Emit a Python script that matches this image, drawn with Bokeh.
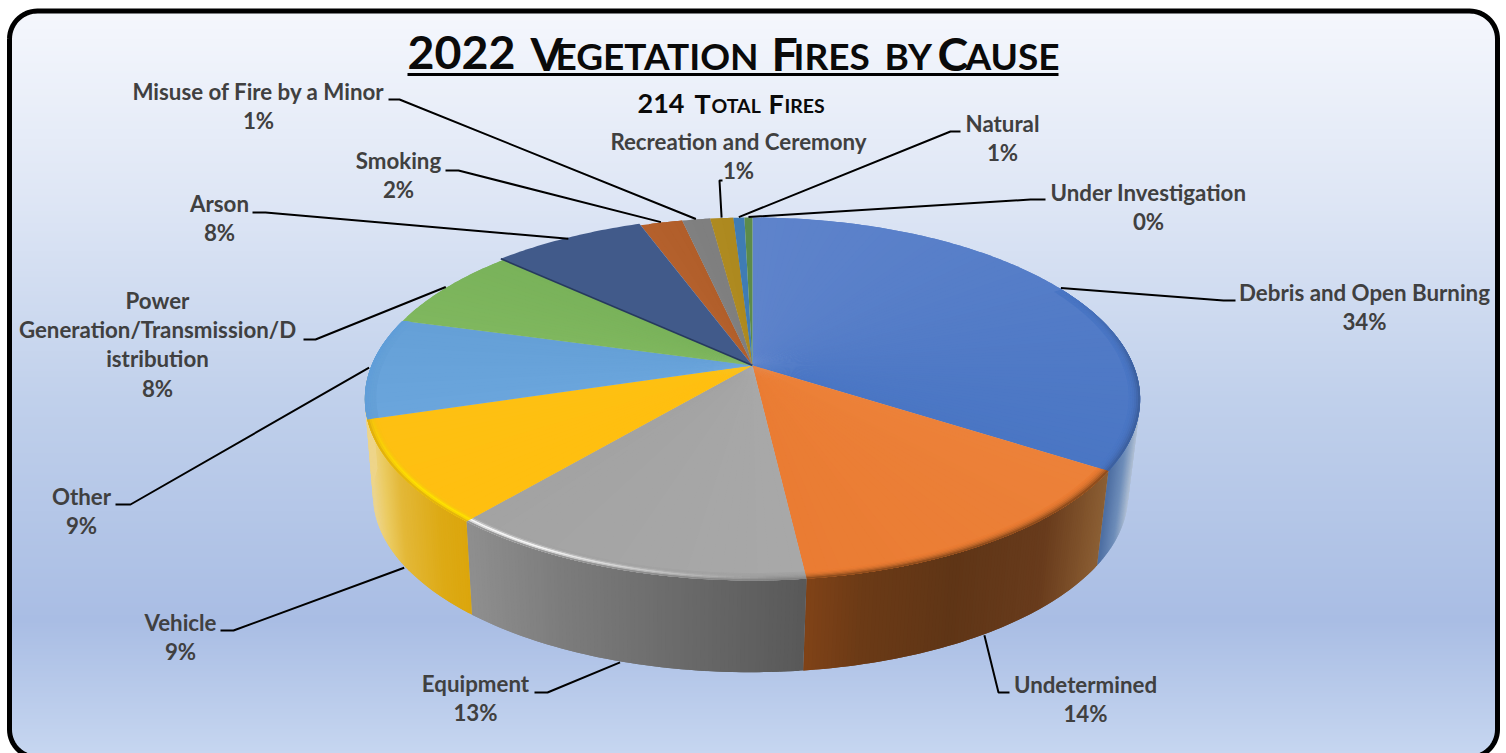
import math
import numpy as np
from bokeh.plotting import figure
from bokeh.models import ColumnDataSource
from bokeh.core.properties import value, field
from bokeh.embed import file_html
from bokeh.resources import INLINE

# Share of fires per cause, percent, clockwise from the back of the pie
categories = ["Debris and Open Burning", "Undetermined", "Equipment", "Vehicle", "Other",
              "Power Generation/Transmission/Distribution", "Arson", "Smoking",
              "Misuse of Fire by a Minor", "Recreation and Ceremony", "Natural", "Under Investigation"]
shares = [34.1, 14.05, 13.0, 9.15, 9.0, 7.55, 7.55, 2.1, 1.4, 1.15, 0.55, 0.4]

title_runs = [("2022", 407, 46.5), ("V", 530, 46.5), ("EGETATION", 555, 37), ("F", 771, 46.5), ("IRES", 793, 37),
              ("BY", 884, 37), ("C", 937, 46.5), ("AUSE", 965, 37)]
subtitle_runs = [("214", 637, 27), ("T", 694, 27), ("OTAL", 711, 19.5), ("F", 768, 27), ("IRES", 784, 19.5)]

# Label wrapping, label centre and leader elbow for each cause
label_lines = [["Debris and Open Burning"], ["Undetermined"], ["Equipment"], ["Vehicle"], ["Other"],
               ["Power", "Generation/Transmission/D", "istribution"], ["Arson"], ["Smoking"],
               ["Misuse of Fire by a Minor"], ["Recreation and Ceremony"], ["Natural"], ["Under Investigation"]]
label_pos = [(1364, 292), (1085, 684), (475, 683), (180, 622), (81, 496), (157, 300),
             (219, 203), (398, 160), (258, 91), (738, 141), (1002, 123), (1148, 192)]
elbows = [[(1223, 300), (1235, 300)], [(998, 692), (1009, 692)], [(547, 692), (534, 692)],
          [(233, 630), (220, 630)], [(130, 504), (115, 504)], [(315, 339), (303, 339)],
          [(265, 212), (252, 212)], [(458, 170), (445, 170)], [(399, 99), (388, 99)],
          [(719, 180), (722, 180)], [(950, 131), (960, 131)], [(1030, 199), (1045, 199)]]

# Top-face colours (start and end of each slice)
top_colors = [("#5E83CB", "#4A76C4"), ("#EC8139", "#EA7C33"), ("#A8A8A8", "#A3A3A3"), ("#FFBF10", "#FEC012"),
              ("#6AA5DC", "#65A0D7"), ("#7FB75E", "#79B25A"), ("#415A8A", "#3F5786"), ("#B4602C", "#B05E2A"),
              ("#808080", "#7E7E7E"), ("#AE8A20", "#AC881E"), ("#3F7CB4", "#3F7CB4"), ("#5C8B4A", "#5C8B4A")]
# Side-wall shading as x / colour stops
wall_stops = {
    0: [(1100, "#47699F"), (1118, "#6E8DB9"), (1130, "#A9BAD0"), (1140, "#C5CEDA")],
    1: [(806, "#7F4217"), (860, "#6B3A16"), (950, "#5F3516"), (1040, "#683B1C"), (1090, "#85582F"), (1108, "#8F6438")],
    2: [(467, "#8F8F8F"), (560, "#7C7C7C"), (680, "#6A6A6A"), (806, "#585858")],
    3: [(372, "#EED58A"), (385, "#EBCB62"), (402, "#E3B838"), (440, "#DDAA15"), (472, "#DBA50A")],
}
# Last wall angle for each slice that shows a wall; the Vehicle wall wraps round to the silhouette
wall_end = {3: 268.0}
rim_dark = {0: "#3A5C98", 1: "#7C4318", 2: "#7E7E7E", 3: "#D9A90F", 4: "#5F9DD8"}
rim_glow = {2: "#FFFFFF", 3: "#FFE400"}
bg_stops = [(0, "#F6F8FD"), (200, "#DEE6F5"), (400, "#C0D0EB"), (620, "#A9BDE4"), (753, "#C6D6F0")]

K = 0.1846
TOP = dict(cx=752.0, cy=365.0, a=381.0, b=175.3)
BOT = dict(cx=750.0, cy=462.0, a=371.0, b=171.0)


def project(theta_deg, r=1.0, geo=TOP):
    t = np.radians(theta_deg)
    w = 1 + K * r * np.cos(t)
    return geo["cx"] + geo["a"] * r * np.sin(t) / w, geo["cy"] - geo["b"] * r * np.cos(t) / w


def rgb(h):
    return np.array([int(h[i:i + 2], 16) for i in (1, 3, 5)], dtype=float)


def to_hex(c):
    c = np.clip(np.round(c), 0, 255).astype(int)
    return "#%02x%02x%02x" % tuple(c)


def mix(a, b, t):
    return a + (b - a) * t


def stop_color(stops, x):
    xs = [s[0] for s in stops]
    cs = np.array([rgb(s[1]) for s in stops])
    return np.array([np.interp(x, xs, cs[:, i]) for i in range(3)])


p = figure(width=1506, height=753, x_range=(0, 1506), y_range=(753, 0), output_backend="svg",
           toolbar_location=None, min_border=0, outline_line_color=None, border_fill_color="white",
           background_fill_color="white")
p.axis.visible = False
p.grid.visible = False

# Rounded panel with vertical gradient
L, R_, T, B, RAD = 9.0, 1497.0, 10.5, 757.0, 28.0
bys = np.arange(T, 754, 2.0)
lefts, rights, cols = [], [], []
for y in bys:
    mid = y + 1
    dy = max(RAD - (mid - T), RAD - (B - mid), 0)
    inset = RAD - math.sqrt(max(RAD ** 2 - dy ** 2, 0))
    lefts.append(L + inset)
    rights.append(R_ - inset)
    cols.append(to_hex(stop_color(bg_stops, mid)))
p.quad(left=lefts, right=rights, top=bys, bottom=bys + 3, fill_color=cols, line_color=None)

arc = np.radians(np.linspace(0, 90, 16))
bx, by = [], []
for (ccx, ccy, start) in [(L + RAD, T + RAD, 180), (R_ - RAD, T + RAD, 270), (R_ - RAD, B - RAD, 0), (L + RAD, B - RAD, 90)]:
    for a in arc:
        ang = math.radians(start) + a
        bx.append(ccx + RAD * math.cos(ang))
        by.append(ccy + RAD * math.sin(ang))
bx.append(bx[0])
by.append(by[0])
p.line(bx, by, line_color="black", line_width=5)

# Slice angles, clockwise from the back
edges = np.concatenate([[0], np.cumsum(shares)]) * 3.6
mids = (edges[:-1] + edges[1:]) / 2

# Side walls as narrow strips; each strip overlaps the next one so no seams show
wx, wy, wc = [], [], []
for i in sorted(wall_stops):
    a0, a1 = max(edges[i], 70), min(wall_end.get(i, edges[i + 1]), 285)
    ts = np.arange(a0, a1, 0.5)
    for t0 in ts:
        t1 = min(t0 + 1.0, a1)
        x00, y00 = project(t0)
        x01, y01 = project(t1)
        x10, y10 = project(t1, geo=BOT)
        x11, y11 = project(t0, geo=BOT)
        wx.append([float(x00), float(x01), float(x10), float(x11)])
        wy.append([float(y00), float(y01), float(y10), float(y11)])
        wc.append(to_hex(stop_color(wall_stops[i], (x00 + x10) / 2)))
p.patches(wx, wy, fill_color=wc, line_color=None)

# Top face: fine overlapping wedges per slice (Arson sits slightly proud of its neighbours)
fx, fy, fc = [], [], []
for i in range(len(shares)):
    if i == 6:
        continue
    n = max(int((edges[i + 1] - edges[i]) / 1.5), 1)
    ang = np.linspace(edges[i], edges[i + 1], n + 1)
    c0, c1 = rgb(top_colors[i][0]), rgb(top_colors[i][1])
    for j in range(n):
        arc_ang = np.linspace(ang[j], ang[min(j + 2, n)], 5)
        xa, ya = project(arc_ang)
        fx.append([TOP["cx"]] + [float(v) for v in xa])
        fy.append([TOP["cy"]] + [float(v) for v in ya])
        fc.append(to_hex(mix(c0, c1, j / n)))
p.patches(fx, fy, fill_color=fc, line_color=None)

# Bevel along the front rim, rings painted inner to outer
ring_edges = np.linspace(0.972, 1.0, 7)
rx, ry, rc = [], [], []
for k in range(len(ring_edges) - 1):
    r0 = ring_edges[k]
    r1 = ring_edges[min(k + 2, len(ring_edges) - 1)]
    u = (k + 0.5) / (len(ring_edges) - 1)
    for i in rim_dark:
        a0, a1 = max(edges[i], 62), min(edges[i + 1], 290)
        n = int(a1 - a0) + 1
        ang = np.linspace(a0, a1, n + 1)
        base = rgb(top_colors[i][1])
        dark = rgb(rim_dark[i])
        for j in range(n):
            tm = (ang[j] + ang[j + 1]) / 2
            fade = np.clip((tm - 62) / 30, 0, 1)
            glow_amt = np.clip((tm - 178) / 30, 0, 1) * np.clip((262 - tm) / 30, 0, 1)
            c = mix(base, dark, fade * u ** 2.2)
            if i in rim_glow:
                c = mix(c, rgb(rim_glow[i]), glow_amt * math.exp(-((u - 0.62) / 0.22) ** 2) * 0.95)
            a_end = ang[min(j + 2, n)]
            xi, yi = project(np.array([ang[j], a_end]), r0)
            xo, yo = project(np.array([a_end, ang[j]]), r1)
            rx.append([float(v) for v in xi] + [float(v) for v in xo])
            ry.append([float(v) for v in yi] + [float(v) for v in yo])
            rc.append(to_hex(c))
p.patches(rx, ry, fill_color=rc, line_color=None)

# Arson wedge with a small shadow on its lower edge
ang = np.linspace(edges[6], edges[7], 40)
ax, ay = project(ang, 1.012)
p.patch([TOP["cx"]] + [float(v) for v in ax], [TOP["cy"]] + [float(v) for v in ay],
        fill_color=top_colors[6][0], line_color=None)
sx, sy = project(edges[6], 1.012)
p.line([TOP["cx"], float(sx)], [TOP["cy"], float(sy)], line_color="#26395E", line_width=1.6)

# Leader lines start on the rim at each slice's mid-angle
for i, th in enumerate(mids):
    geo = BOT if 100 < th < 260 else TOP
    x0, y0 = project(th, 1.004, geo)
    xs = [float(x0)] + [e[0] for e in elbows[i]]
    ys = [float(y0)] + [e[1] for e in elbows[i]]
    p.line(xs, ys, line_color="black", line_width=2)

# Data labels: category lines followed by the rounded share
tx, ty, tt = [], [], []
LINE = 29.2
for i, lines in enumerate(label_lines):
    cx, cy = label_pos[i]
    rows = lines + [f"{round(shares[i])}%"]
    for n, row in enumerate(rows):
        tx.append(cx)
        ty.append(cy + n * LINE)
        tt.append(row)
p.text(tx, ty, text=tt, text_font=value("Lato"), text_font_style="bold", text_font_size="22.3px",
       text_color="#404040", text_align="center", text_baseline="middle")


def small_caps(runs, baseline):
    # Vertical centre of each run is set back from the shared baseline by a share of its size
    src = ColumnDataSource(dict(x=[r[1] for r in runs], y=[baseline - 0.34 * r[2] for r in runs],
                                t=[r[0] for r in runs], size=[f"{r[2]}px" for r in runs]))
    p.text("x", "y", text="t", source=src, text_font=value("Lato"), text_font_style="bold",
           text_font_size=field("size"), text_color="#0A0A0A", text_align="left", text_baseline="middle")


small_caps(title_runs, 68)
p.line([407, 1058], [74, 74], line_color="black", line_width=3)
small_caps(subtitle_runs, 112)

open("out.html", "w").write(file_html(p, INLINE))
